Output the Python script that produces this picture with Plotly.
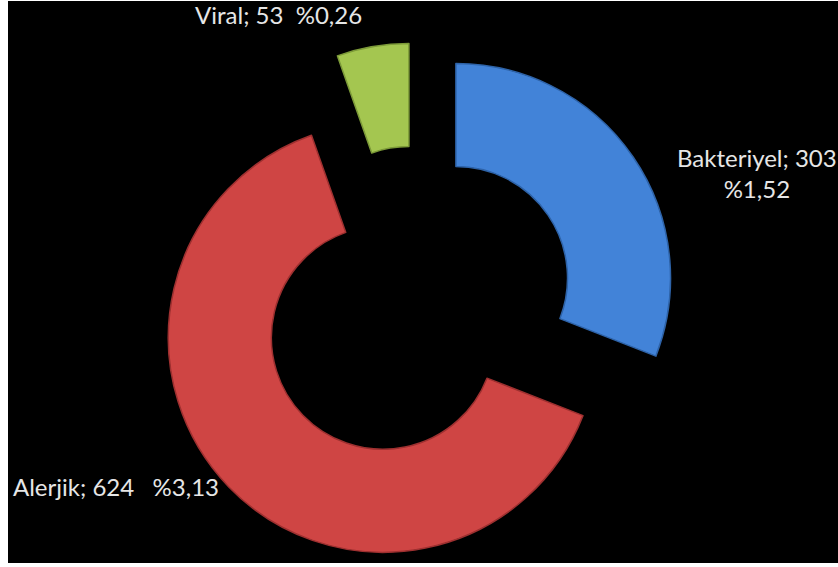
import plotly.graph_objects as go

# Infection types and their counts / percentage labels
categories = ["Bakteriyel", "Alerjik", "Viral"]
values = [303, 624, 53]
percent_labels = ["%1,52", "%3,13", "%0,26"]
slice_colors = ["#4283D8", "#CF4544", "#A4C650"]
edge_colors = ["#2E63A8", "#9E3030", "#7C9A38"]

W, H = 838, 567

fig = go.Figure()

fig.add_trace(go.Pie(
    labels=categories,
    values=values,
    sort=False,
    direction="clockwise",
    rotation=0,
    hole=0.52,
    pull=[0.22, 0.22, 0.22],
    textinfo="none",
    hoverinfo="label+value",
    marker=dict(colors=slice_colors, line=dict(color=edge_colors, width=1.5)),
    domain=dict(x=[0.185, 0.810], y=[0.0, 0.925]),
    showlegend=False,
))

font = dict(family="Lato, 'Open Sans', sans-serif", size=24, color="#E6E6E6")

# data labels: "<name>; <value>  <percent>"
texts = [f"{c}; {v}" for c, v in zip(categories, values)]
fig.add_annotation(text=f"{texts[0]}<br>{percent_labels[0]}", x=757 / W, y=1 - 173 / H,
                   xref="paper", yref="paper", xanchor="center", yanchor="middle",
                   showarrow=False, font=font, align="center")
fig.add_annotation(text=f"{texts[1]}   {percent_labels[1]}", x=11 / W, y=1 - 486 / H,
                   xref="paper", yref="paper", xanchor="left", yanchor="middle",
                   showarrow=False, font=font)
fig.add_annotation(text=f"{texts[2]}  {percent_labels[2]}", x=278 / W, y=1 - 14 / H,
                   xref="paper", yref="paper", xanchor="center", yanchor="middle",
                   showarrow=False, font=font)

# black chart area with thin white frame at left and bottom
fig.add_shape(type="rect", xref="paper", yref="paper",
              x0=8 / W, x1=1, y0=4 / H, y1=1 - 1 / H,
              fillcolor="black", line=dict(width=0), layer="below")

fig.update_layout(
    width=W, height=H,
    margin=dict(l=0, r=0, t=0, b=0),
    paper_bgcolor="white",
    plot_bgcolor="black",
)

fig.write_html("out.html")
